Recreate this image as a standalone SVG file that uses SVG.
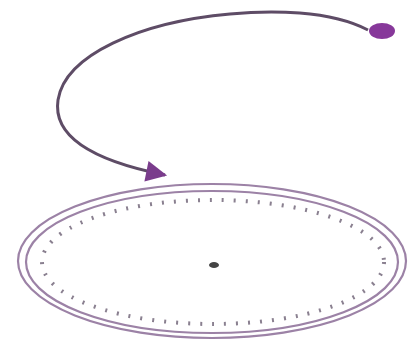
<svg xmlns="http://www.w3.org/2000/svg" width="413" height="342" viewBox="0 0 413 342">
<style>
.ring{fill:none;stroke:#9c82a6;stroke-width:2.2}
.ticks{fill:none;stroke:#8a8090;stroke-width:4;stroke-dasharray:2 10}
.conn{fill:none;stroke:#5e4c66;stroke-width:3}
</style>
<defs>
<marker id="ah" viewBox="0 0 10 10" refX="9" refY="5" markerWidth="8" markerHeight="7" orient="auto" markerUnits="strokeWidth">
<path d="M0 0 L10 5 L0 10 z" fill="#7a3c8c"/>
</marker>
</defs>
<rect width="413" height="342" fill="#ffffff"/>
<g id="start">
<ellipse cx="382" cy="31" rx="13" ry="8" fill="#87389a"/>
</g>
<g id="dial">
<ellipse class="ring" cx="212" cy="261" rx="194" ry="77"/>
<ellipse class="ring" cx="212" cy="262" rx="186" ry="71"/>
<ellipse class="ticks" cx="213" cy="262" rx="171" ry="62"/>
<ellipse cx="214" cy="265" rx="5" ry="3" fill="#444"/>
</g>
<g id="connectors">
<path class="conn" d="M368 30 C330 10 270 10 230 14 C140 22 65 55 58 100 C52 140 100 162 165 175" marker-end="url(#ah)"/>
</g>
</svg>
